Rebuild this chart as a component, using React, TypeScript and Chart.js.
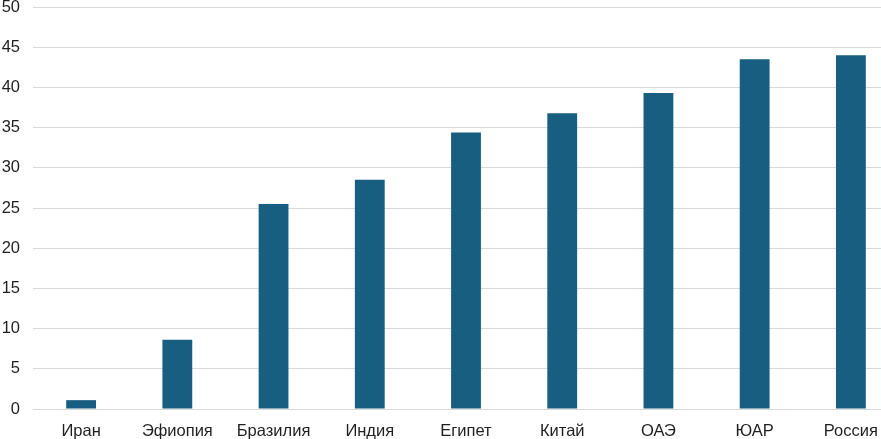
import React, { useEffect, useRef } from "react";
import { Chart, registerables } from "chart.js";

Chart.register(...registerables);

const categories = ["Иран", "Эфиопия", "Бразилия", "Индия", "Египет", "Китай", "ОАЭ", "ЮАР", "Россия"];
const values = [1.1, 8.6, 25.5, 28.5, 34.4, 36.8, 39.3, 43.5, 44.0];

export default function App() {
  const ref = useRef<HTMLCanvasElement | null>(null);
  useEffect(() => {
    if (!ref.current) return;
    const chart = new Chart(ref.current, {
      type: "bar",
      data: {
        labels: categories,
        datasets: [
          {
            data: values,
            backgroundColor: "#175e80",
            categoryPercentage: 1,
            barPercentage: 0.31,
          },
        ],
      },
      options: {
        responsive: false,
        animation: false,
        layout: { padding: { top: 7, right: 0, left: 0, bottom: 0 } },
        plugins: { legend: { display: false }, tooltip: { enabled: false } },
        scales: {
          x: {
            grid: { display: false, drawTicks: false },
            border: { display: false },
            ticks: {
              color: "#1f1f1f",
              font: { family: "Liberation Sans, Arial", size: 16.5 },
              padding: 13,
              maxRotation: 0,
              autoSkip: false,
            },
            afterFit: (s: any) => {
              s.height = 30;
              s.paddingLeft = 0;
              s.paddingRight = 0;
            },
          },
          y: {
            min: 0,
            max: 50,
            grid: { color: "#d9d9d9", lineWidth: 1, drawTicks: false },
            border: { display: false },
            ticks: {
              stepSize: 5,
              color: "#1f1f1f",
              font: { family: "Liberation Sans, Arial", size: 16.5 },
              padding: 13,
            },
            afterFit: (s: any) => {
              s.width = 33;
              s.paddingTop = 0;
              s.paddingBottom = 0;
            },
          },
        },
      },
    });
    return () => chart.destroy();
  }, []);
  return (
    <div style={{ position: "fixed", left: 0, top: 0, width: 881, height: 439, overflow: "hidden", background: "#fff" }}>
      <canvas ref={ref} width={899} height={439} style={{ display: "block" }} />
    </div>
  );
}
